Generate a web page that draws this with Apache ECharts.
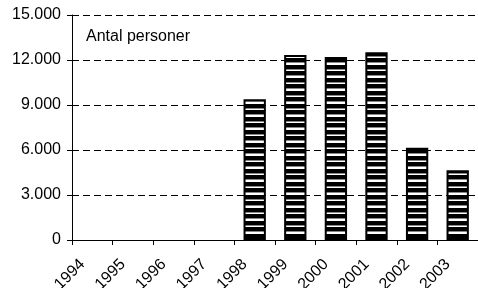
<!DOCTYPE html>
<html>
<head>
<meta charset="utf-8">
<script src="https://cdn.jsdelivr.net/npm/echarts@6/dist/echarts.min.js"></script>
<style>
  html, body { margin: 0; padding: 0; background: #fff; }
  #chart { width: 478px; height: 288px; }
</style>
</head>
<body>
<div id="chart"></div>
<script>
const years = ['1994', '1995', '1996', '1997', '1998', '1999', '2000', '2001', '2002', '2003'];
const persons = [null, null, null, null, 9380, 12330, 12200, 12510, 6150, 4650];
const yTicks = [0, 3000, 6000, 9000, 12000, 15000];
const seriesLabel = 'Antal personer';

// striped fill: black bands with thin white lines
const makeStripes = () => {
  const c = document.createElement('canvas');
  c.width = 4;
  c.height = 13;
  const ctx = c.getContext('2d');
  ctx.fillStyle = '#000';
  ctx.fillRect(0, 0, 4, 13);
  ctx.fillStyle = '#888';
  ctx.fillRect(0, 4, 4, 1);
  ctx.fillRect(0, 10, 4, 1);
  ctx.fillStyle = '#fff';
  ctx.fillRect(0, 5, 4, 1);
  ctx.fillRect(0, 11, 4, 2);
  return c;
};

const fmt = v => String(v).replace(/\B(?=(\d{3})+(?!\d))/g, '.');

const chart = echarts.init(document.getElementById('chart'), null, { renderer: 'canvas' });
chart.setOption({
  animation: false,
  textStyle: { fontFamily: 'Liberation Sans, Arial, sans-serif' },
  grid: { left: 72, right: 0, top: 15, bottom: 48, containLabel: false, outerBoundsMode: 'none' },
  graphic: [{
    type: 'text',
    left: 86,
    top: 29,
    style: { text: seriesLabel, fontSize: 16, fill: '#000', fontFamily: 'Liberation Sans, Arial, sans-serif' }
  }],
  xAxis: {
    type: 'category',
    data: years,
    boundaryGap: true,
    axisLine: { lineStyle: { color: '#000', width: 1 } },
    axisTick: { show: true, alignWithLabel: false, length: 5, inside: false, lineStyle: { color: '#000' } },
    axisLabel: { rotate: 45, color: '#000', fontSize: 16, margin: 12, interval: 0, padding: [0, 14, 0, 0] },
    splitLine: { show: false }
  },
  yAxis: {
    type: 'value',
    min: yTicks[0],
    max: yTicks[yTicks.length - 1],
    interval: yTicks[1] - yTicks[0],
    axisLine: { show: true, lineStyle: { color: '#000', width: 1 } },
    axisTick: { show: true, length: 5, lineStyle: { color: '#000' } },
    axisLabel: { color: '#000', fontSize: 16, margin: 11, formatter: fmt },
    splitLine: { show: true, lineStyle: { color: '#000', width: 1, type: [7, 4] } }
  },
  series: [{
    name: seriesLabel,
    type: 'bar',
    data: persons,
    barWidth: '55%',
    itemStyle: {
      color: { image: makeStripes(), repeat: 'repeat' },
      borderColor: '#000',
      borderWidth: 2
    }
  }]
});
</script>
</body>
</html>
